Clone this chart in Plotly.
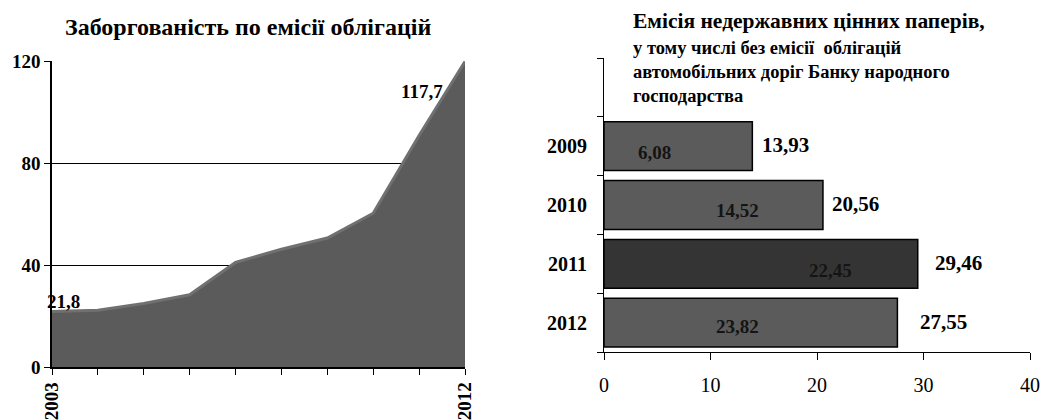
import plotly.graph_objects as go

# ---- data: left area chart ----
years = [2003, 2004, 2005, 2006, 2007, 2008, 2009, 2010, 2011, 2012]
debt = [21.8, 22.3, 24.9, 28.3, 41.0, 46.2, 50.6, 60.3, 90.8, 119.8]
debt_first_label = "21,8"
debt_last_label = "117,7"

# ---- data: right bar chart ----
bar_years = ["2009", "2010", "2011", "2012"]
bar_total = [13.93, 20.56, 29.46, 27.55]
bar_inner = [6.08, 14.52, 22.45, 23.82]

W, H = 1046, 420
FONT = "Liberation Serif, Times New Roman, serif"

def px_x(v):
    return v / W

def px_y(v):
    return 1 - v / H

fig = go.Figure()

# Area chart
fig.add_trace(go.Scatter(
    x=years, y=debt, mode="lines", fill="tozeroy",
    fillcolor="#5b5b5b", line=dict(color="#707070", width=3),
    xaxis="x", yaxis="y", showlegend=False, hoverinfo="skip"))

# Bar chart
idx = list(range(len(bar_years)))
bar_colors = ["#343434" if y == "2011" else "#5b5b5b" for y in bar_years]
fig.add_trace(go.Bar(
    x=bar_total, y=idx, orientation="h", width=0.83,
    marker=dict(color=bar_colors, line=dict(color="#000000", width=1.5)),
    xaxis="x2", yaxis="y2", showlegend=False, hoverinfo="skip"))

annotations = []
# Left title
annotations.append(dict(text="<b>Заборгованість по емісії облігацій</b>", xref="paper", yref="paper",
                        x=px_x(248), y=px_y(27), xanchor="center", yanchor="middle", showarrow=False,
                        font=dict(family=FONT, size=24, color="#000")))
# Area labels
annotations.append(dict(text="<b>" + debt_first_label + "</b>", xref="x", yref="y", x=years[0], y=debt[0],
                        xanchor="left", yanchor="middle", xshift=-7, yshift=10, showarrow=False,
                        font=dict(family=FONT, size=19, color="#000")))
annotations.append(dict(text="<b>" + debt_last_label + "</b>", xref="x", yref="y", x=years[-1], y=debt[-1],
                        xanchor="right", yanchor="middle", xshift=-20, yshift=-30, showarrow=False,
                        font=dict(family=FONT, size=19, color="#000")))

# Right title lines
title_lines = ["Емісія недержавних цінних паперів,",
               "у тому числі без емісії  облігацій",
               "автомобільних доріг Банку народного",
               "господарства"]
title_y = [21, 48, 72, 96]
title_sizes = [21.5, 18.5, 18.5, 18.5]
for t, ty, ts in zip(title_lines, title_y, title_sizes):
    annotations.append(dict(text="<b>" + t + "</b>", xref="paper", yref="paper",
                            x=px_x(631), y=px_y(ty), xanchor="left", yanchor="middle",
                            showarrow=False, font=dict(family=FONT, size=ts, color="#000")))

# Bar labels
outer_shift = [8, 7, 15, 21]
inner_pos = [4.74, 12.49, 21.3, 12.49]
inner_shift = [-6, -6, -7, -4]
for i, (tot, inn) in enumerate(zip(bar_total, bar_inner)):
    annotations.append(dict(text="<b>" + f"{tot:.2f}".replace(".", ",") + "</b>", xref="x2", yref="y2",
                            x=tot, y=i, xanchor="left", yanchor="middle", xshift=outer_shift[i], yshift=1,
                            showarrow=False, font=dict(family=FONT, size=21, color="#000")))
    annotations.append(dict(text="<b>" + f"{inn:.2f}".replace(".", ",") + "</b>", xref="x2", yref="y2",
                            x=inner_pos[i], y=i, xanchor="center", yanchor="middle", yshift=inner_shift[i],
                            showarrow=False, font=dict(family=FONT, size=19, color="#141414")))

fig.update_layout(
    width=W, height=H, autosize=False,
    margin=dict(l=0, r=0, t=0, b=0, pad=0, autoexpand=False),
    paper_bgcolor="white", plot_bgcolor="white",
    font=dict(family=FONT, color="#000"),
    annotations=annotations,
    xaxis=dict(domain=[px_x(52), px_x(465)], range=[2003, 2012], anchor="y", automargin=False,
               tickmode="array", tickvals=years,
               ticktext=["<b>2003</b>"] + [""] * (len(years) - 2) + ["<b>2012</b>"],
               tickangle=-90, ticks="outside", ticklen=6, tickcolor="#000",
               showline=True, linecolor="#000", linewidth=1.5, showgrid=False, zeroline=False,
               tickfont=dict(family=FONT, size=19, color="#000")),
    yaxis=dict(domain=[px_y(367), px_y(61)], range=[0, 120], anchor="x", automargin=False,
               tickmode="array", tickvals=[0, 40, 80, 120], ticktext=["<b>0</b>", "<b>40</b>", "<b>80</b>", "<b>120</b>"],
               ticks="outside", ticklen=6, tickcolor="#000",
               showline=True, linecolor="#000", linewidth=1.5,
               showgrid=True, gridcolor="#000", gridwidth=1, zeroline=False,
               tickfont=dict(family=FONT, size=19, color="#000")),
    xaxis2=dict(domain=[px_x(604), px_x(1030)], range=[0, 40], anchor="y2", automargin=False,
                tickmode="array", tickvals=[0, 10, 20, 30, 40],
                ticks="outside", ticklen=7, tickcolor="#000", ticklabelstandoff=8,
                showline=True, linecolor="#000", linewidth=1, showgrid=False, zeroline=False,
                tickfont=dict(family=FONT, size=20, color="#000")),
    yaxis2=dict(domain=[px_y(352), px_y(58)], range=[3.5, -1.5], anchor="x2", automargin=False,
                tickmode="array", tickvals=idx, ticktext=["<b>" + y + "</b>" for y in bar_years],
                ticks="", ticklabelstandoff=12,
                minor=dict(tickmode="array", tickvals=[-1.5, -0.5, 0.5, 1.5, 2.5, 3.5],
                           ticks="outside", ticklen=6, tickcolor="#000", showgrid=False),
                showline=True, linecolor="#000", linewidth=1, showgrid=False, zeroline=False,
                tickfont=dict(family=FONT, size=20, color="#000")),
)

fig.write_html("out.html", config={"displayModeBar": False},
               post_script="document.body.style.margin='0px';document.body.style.overflow='hidden';")
